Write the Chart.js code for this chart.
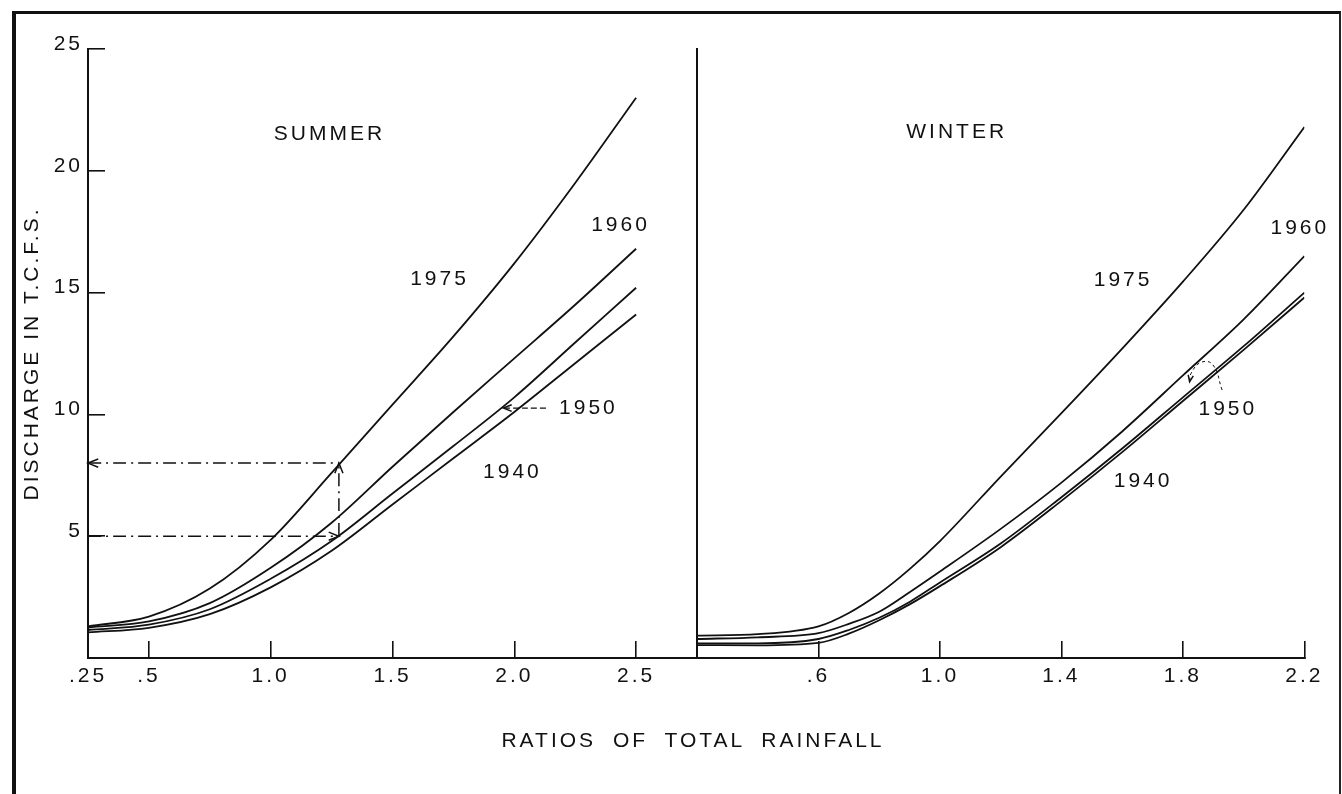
<!DOCTYPE html>
<html>
<head>
<meta charset="utf-8">
<script src="https://cdn.jsdelivr.net/npm/chart.js@4.4.1/dist/chart.umd.min.js"></script>
<style>
  html, body { margin: 0; padding: 0; background: #fff; overflow: hidden; }
  #page { position: relative; width: 1342px; height: 794px; overflow: hidden; }
  #page canvas { position: absolute; left: 0; top: 0; }
  #frame {
    position: absolute; left: 12px; top: 11px; width: 1323px; height: 820px;
    border-top: 3px solid #111; border-left: 4px solid #111; border-right: 2px solid #222;
  }
  #xTitle {
    position: absolute; left: 393px; top: 728px; width: 600px; line-height: 24px;
    text-align: center; font: 21px "Liberation Sans", Arial, sans-serif;
    letter-spacing: 3px; word-spacing: 8px; color: #111;
  }
</style>
</head>
<body>
<div id="page">
  <div id="frame"></div>
  <canvas id="summerChart" width="1342" height="794"></canvas>
  <canvas id="winterChart" width="1342" height="794"></canvas>
  <div id="xTitle">RATIOS OF TOTAL RAINFALL</div>
</div>
<script>
// Summer panel (ratio of total rainfall -> discharge, T.C.F.S.)
const summerX    = [0.25, 0.5, 0.75, 1.0, 1.25, 1.5, 1.75, 2.0, 2.25, 2.5];
const summer1975 = [1.3, 1.7, 2.85, 4.85, 7.6, 10.4, 13.2, 16.2, 19.5, 23.0];
const summer1960 = [1.25, 1.5, 2.25, 3.7, 5.55, 7.85, 10.1, 12.3, 14.5, 16.8];
const summer1950 = [1.15, 1.37, 2.0, 3.25, 4.8, 6.75, 8.7, 10.7, 12.95, 15.2];
const summer1940 = [1.05, 1.24, 1.8, 2.9, 4.4, 6.3, 8.2, 10.1, 12.1, 14.1];

// Winter panel
const winterX    = [0.2, 0.4, 0.6, 0.7, 0.8, 0.9, 1.0, 1.2, 1.4, 1.6, 1.8, 2.0, 2.2];
const winter1975 = [0.92, 0.98, 1.3, 1.85, 2.65, 3.65, 4.8, 7.45, 10.05, 12.7, 15.45, 18.4, 21.8];
const winter1960 = [0.78, 0.85, 1.02, 1.4, 1.9, 2.7, 3.55, 5.3, 7.2, 9.3, 11.6, 13.9, 16.5];
const winter1950 = [0.6, 0.6, 0.78, 1.15, 1.65, 2.3, 3.1, 4.7, 6.6, 8.6, 10.7, 12.8, 15.0];
const winter1940 = [0.53, 0.52, 0.62, 1.0, 1.55, 2.2, 2.95, 4.55, 6.45, 8.45, 10.55, 12.65, 14.8];

// example read-off: ratio 1.28 gives 5 (1950) and 8 (1975)
const guideRatio = 1.28;
const guideLow = 5;
const guideHigh = 8;

// axes
const yTicks = [5, 10, 15, 20, 25];
const summerTicks = [0.25, 0.5, 1.0, 1.5, 2.0, 2.5];
const summerTickLabels = ['.25', '.5', '1.0', '1.5', '2.0', '2.5'];
const winterTicks = [0.6, 1.0, 1.4, 1.8, 2.2];
const winterTickLabels = ['.6', '1.0', '1.4', '1.8', '2.2'];

// text notes, in data units of each panel
const summerNotes = [
  { text: 'SUMMER', x: 1.235, y: 21.5 },
  { text: '1975', x: 1.687, y: 15.56 },
  { text: '1960', x: 2.43, y: 17.78 },
  { text: '1950', x: 2.298, y: 10.26 },
  { text: '1940', x: 1.986, y: 7.64 }
];
const winterNotes = [
  { text: 'WINTER', x: 1.05, y: 21.6 },
  { text: '1975', x: 1.598, y: 15.52 },
  { text: '1960', x: 2.18, y: 17.65 },
  { text: '1950', x: 1.943, y: 10.22 },
  { text: '1940', x: 1.664, y: 7.27 }
];

const ink = '#111';
const FONT = '"Liberation Sans", Arial, Helvetica, sans-serif';
const SPACING = '3px';

function pts(xs, ys) {
  return xs.map((x, i) => ({ x: x, y: ys[i] }));
}

function curve(label, xs, ys) {
  return {
    label: label,
    data: pts(xs, ys),
    borderColor: ink,
    borderWidth: 1.8,
    pointRadius: 0,
    fill: false,
    cubicInterpolationMode: 'monotone'
  };
}

function guide(label, data, dash, width) {
  return {
    label: label,
    data: data,
    borderColor: ink,
    borderWidth: width || 1.5,
    borderDash: dash,
    pointRadius: 0,
    fill: false,
    tension: 0.45,
    clip: false
  };
}

// labels + arrow heads
const notesPlugin = {
  id: 'notes',
  beforeDraw(chart) {
    chart.ctx.letterSpacing = SPACING;
  },
  afterDatasetsDraw(chart, args, opts) {
    const ctx = chart.ctx;
    const x = chart.scales.x, y = chart.scales.y;
    ctx.save();
    ctx.letterSpacing = SPACING;
    ctx.fillStyle = ink;
    ctx.font = '21px ' + FONT;
    ctx.textAlign = 'center';
    ctx.textBaseline = 'middle';
    (opts.labels || []).forEach(l => {
      ctx.fillText(l.text, x.getPixelForValue(l.x) + 1.5, y.getPixelForValue(l.y));
    });
    ctx.strokeStyle = ink;
    ctx.lineWidth = 1.5;
    (opts.heads || []).forEach(h => {
      const px = x.getPixelForValue(h.x), py = y.getPixelForValue(h.y);
      const len = h.len || 11;
      ctx.beginPath();
      ctx.moveTo(px - len * Math.cos(h.angle - 0.38), py - len * Math.sin(h.angle - 0.38));
      ctx.lineTo(px, py);
      ctx.lineTo(px - len * Math.cos(h.angle + 0.38), py - len * Math.sin(h.angle + 0.38));
      ctx.stroke();
    });
    ctx.restore();
  }
};

const tickFont = { family: FONT, size: 21 };

function xScale(min, max, ticks, labels) {
  return {
    type: 'linear',
    min: min,
    max: max,
    afterBuildTicks: s => { s.ticks = ticks.map(v => ({ value: v })); },
    afterFit: s => { s.height = 136; },
    ticks: {
      color: ink,
      font: tickFont,
      padding: 23,
      autoSkip: false,
      maxRotation: 0,
      callback: v => labels[ticks.indexOf(v)]
    },
    grid: { drawOnChartArea: false, tickLength: -17, color: ink, lineWidth: 1.6 },
    border: { color: ink, width: 2 }
  };
}

const summerChart = new Chart(document.getElementById('summerChart'), {
  type: 'line',
  data: {
    datasets: [
      curve('1975', summerX, summer1975),
      curve('1960', summerX, summer1960),
      curve('1950', summerX, summer1950),
      curve('1940', summerX, summer1940),
      guide('high', [{ x: 0.25, y: guideHigh }, { x: guideRatio, y: guideHigh }], [13, 5, 2, 5]),
      guide('low', [{ x: 0.25, y: guideLow }, { x: guideRatio, y: guideLow }], [13, 5, 2, 5]),
      guide('up', [{ x: guideRatio, y: guideLow }, { x: guideRatio, y: guideHigh }], [13, 5, 2, 5]),
      guide('1950 pointer', [{ x: 2.13, y: 10.26 }, { x: 1.955, y: 10.26 }], [6, 3], 1.2)
    ]
  },
  options: {
    responsive: false,
    animation: false,
    devicePixelRatio: 1,
    events: [],
    layout: { padding: { left: 0, top: 49, right: 645, bottom: 0 } },
    plugins: {
      legend: { display: false },
      tooltip: { enabled: false },
      notes: {
        labels: summerNotes,
        heads: [
          { x: 0.25, y: guideHigh, angle: Math.PI },
          { x: guideRatio, y: guideLow, angle: 0 },
          { x: guideRatio, y: guideHigh, angle: -Math.PI / 2 },
          { x: 1.955, y: 10.26, angle: Math.PI, len: 9 }
        ]
      }
    },
    scales: {
      x: xScale(0.25, 2.75, summerTicks, summerTickLabels),
      y: {
        type: 'linear',
        min: 0,
        max: 25,
        afterBuildTicks: s => { s.ticks = yTicks.map(v => ({ value: v })); },
        afterFit: s => { s.width = 88; },
        ticks: { color: ink, font: tickFont, padding: 22, labelOffset: -5, autoSkip: false },
        grid: { drawOnChartArea: false, tickLength: -17, color: ink, lineWidth: 1.6 },
        border: { color: ink, width: 2 },
        title: {
          display: true,
          text: 'DISCHARGE IN T.C.F.S.',
          color: ink,
          font: { family: FONT, size: 21 },
          padding: { top: 20, bottom: 0 }
        }
      }
    }
  },
  plugins: [notesPlugin]
});

const winterChart = new Chart(document.getElementById('winterChart'), {
  type: 'line',
  data: {
    datasets: [
      curve('1975', winterX, winter1975),
      curve('1960', winterX, winter1960),
      curve('1950', winterX, winter1950),
      curve('1940', winterX, winter1940),
      guide('1950 pointer', [
        { x: 1.929, y: 11.0 }, { x: 1.899, y: 12.03 }, { x: 1.86, y: 12.14 },
        { x: 1.827, y: 11.69 }, { x: 1.822, y: 11.34 }
      ], [3, 3], 1)
    ]
  },
  options: {
    responsive: false,
    animation: false,
    devicePixelRatio: 1,
    events: [],
    layout: { padding: { left: 697, top: 49, right: 37, bottom: 0 } },
    plugins: {
      legend: { display: false },
      tooltip: { enabled: false },
      notes: {
        labels: winterNotes,
        heads: [{ x: 1.822, y: 11.34, angle: 1.75, len: 7 }]
      }
    },
    scales: {
      x: xScale(0.2, 2.2, winterTicks, winterTickLabels),
      y: {
        type: 'linear',
        min: 0,
        max: 25,
        afterBuildTicks: s => { s.ticks = yTicks.map(v => ({ value: v })); },
        afterFit: s => { s.width = 0; },
        ticks: { display: false },
        grid: { drawOnChartArea: false, drawTicks: false },
        border: { color: ink, width: 2 }
      }
    }
  },
  plugins: [notesPlugin]
});
</script>
</body>
</html>
